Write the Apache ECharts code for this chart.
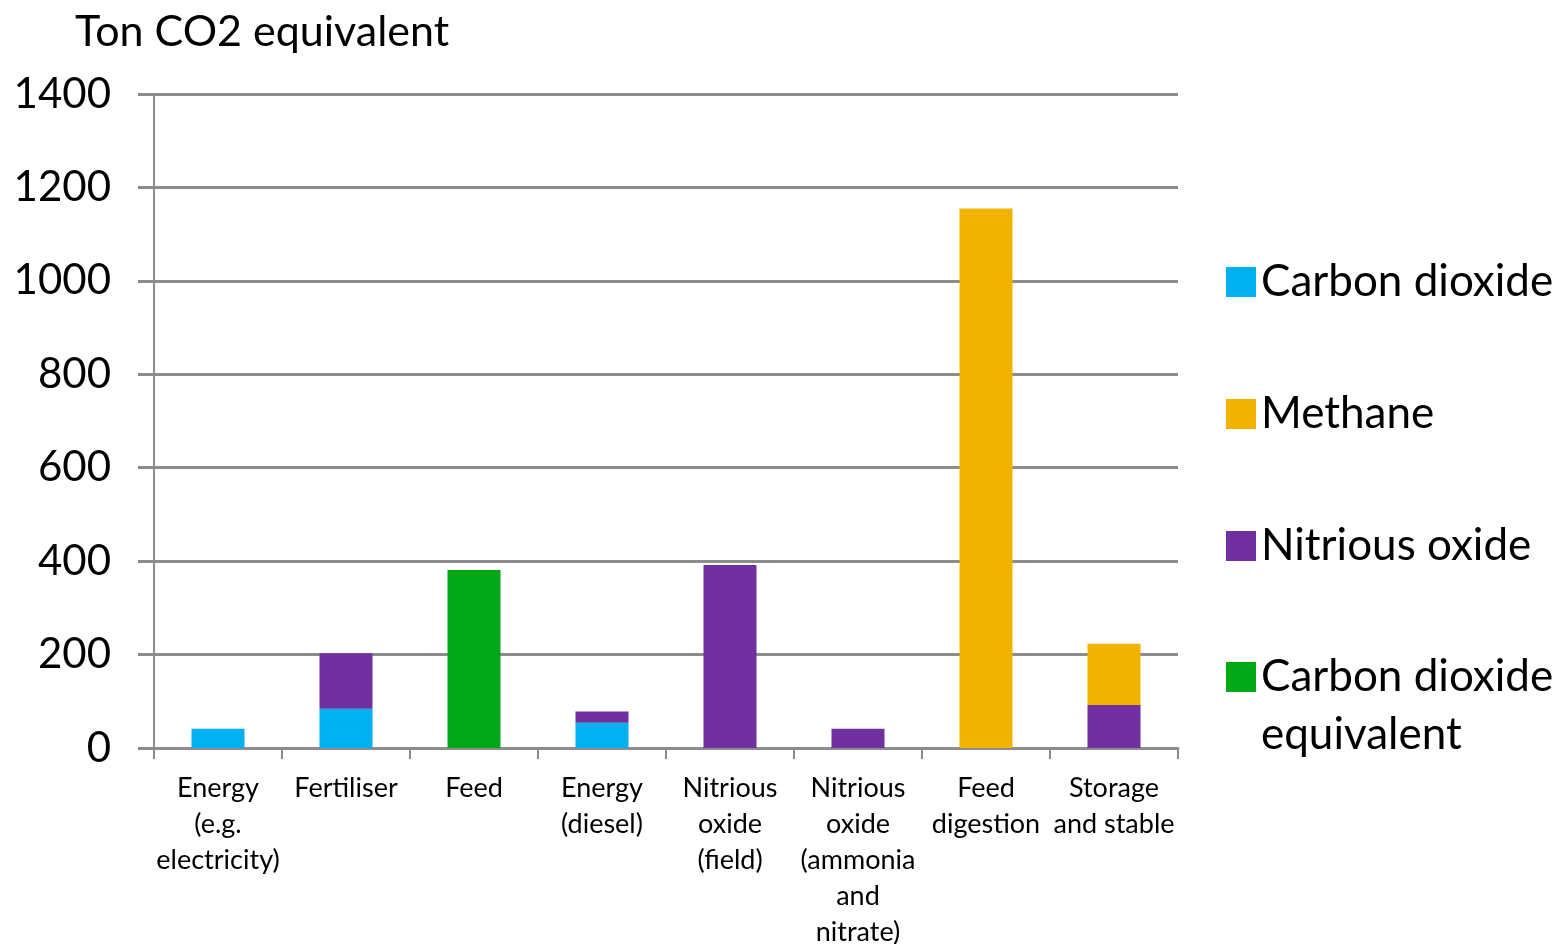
<!DOCTYPE html>
<html>
<head>
<meta charset="utf-8">
<script src="https://cdn.jsdelivr.net/npm/echarts@6/dist/echarts.min.js"></script>
<style>
html,body{margin:0;padding:0;background:#fff;overflow:hidden;}
#chart{width:1563px;height:944px;}
</style>
</head>
<body>
<div id="chart"></div>
<script>
const categories = [
  'Energy\n(e.g.\nelectricity)',
  'Fertiliser',
  'Feed',
  'Energy\n(diesel)',
  'Nitrious\noxide\n(field)',
  'Nitrious\noxide\n(ammonia\nand\nnitrate)',
  'Feed\ndigestion',
  'Storage\nand stable'
];
const carbonDioxide = [41, 84, null, 54, null, null, null, null];
const nitrousOxide  = [null, 119, null, 24, 392, 41, null, 92];
const methane       = [null, null, null, null, null, null, 1155, 131];
const co2Equivalent = [null, null, 381, null, null, null, null, null];
const yTicks = [0, 200, 400, 600, 800, 1000, 1200, 1400];

const FONT = 'Lato';
const GRID = '#8c8c8c';

const chart = echarts.init(document.getElementById('chart'));
chart.setOption({
  animation: false,
  backgroundColor: '#fff',
  textStyle: {fontFamily: FONT},
  title: {
    text: 'Ton CO2 equivalent',
    left: 70, top: 6,
    textStyle: {fontFamily: FONT, fontSize: 43, fontWeight: 'normal', color: '#000'}
  },
  legend: [{
    orient: 'vertical',
    left: 1221, top: 255,
    itemWidth: 30, itemHeight: 30,
    itemGap: 88,
    icon: 'rect',
    data: ['Carbon dioxide', 'Methane', 'Nitrious oxide'],
    textStyle: {fontFamily: FONT, fontSize: 44, color: '#000'}
  }, {
    orient: 'vertical',
    left: 1221, top: 592,
    itemWidth: 30, itemHeight: 30,
    icon: 'rect',
    data: ['Carbon dioxide equivalent'],
    formatter: function () { return '{s| }\n{t|Carbon dioxide}\n{t|equivalent}'; },
    textStyle: {
      fontFamily: FONT, fontSize: 44, color: '#000',
      rich: {
        s: {fontFamily: FONT, fontSize: 44, lineHeight: 58},
        t: {fontFamily: FONT, fontSize: 44, lineHeight: 58, color: '#000'}
      }
    }
  }],
  grid: {left: 154, right: 385, top: 94, height: 654, containLabel: false, outerBoundsMode: 'none'},
  xAxis: {
    type: 'category',
    data: categories,
    axisLine: {show: true, lineStyle: {color: GRID, width: 3}},
    axisTick: {show: true, alignWithLabel: false, length: 11, lineStyle: {color: GRID, width: 2}},
    axisLabel: {
      interval: 0, margin: 22,
      fontFamily: FONT, fontSize: 27, lineHeight: 36, color: '#000'
    }
  },
  yAxis: {
    type: 'value',
    min: 0, max: 1400, interval: 200,
    axisLine: {show: true, lineStyle: {color: GRID, width: 2}},
    axisTick: {show: true, length: 16, lineStyle: {color: GRID, width: 3}},
    splitLine: {show: true, lineStyle: {color: GRID, width: 3}},
    axisLabel: {
      margin: 43, fontFamily: FONT, fontSize: 42, color: '#000',
      formatter: function (v) { return yTicks.indexOf(v) >= 0 ? String(v) : ''; }
    }
  },
  series: [
    {name: 'Carbon dioxide', type: 'bar', stack: 'total', data: carbonDioxide, barWidth: 53, itemStyle: {color: '#00B0F0'}},
    {name: 'Nitrious oxide', type: 'bar', stack: 'total', data: nitrousOxide, barWidth: 53, itemStyle: {color: '#7030A0'}},
    {name: 'Methane', type: 'bar', stack: 'total', data: methane, barWidth: 53, itemStyle: {color: '#F0B400'}},
    {name: 'Carbon dioxide equivalent', type: 'bar', stack: 'total', data: co2Equivalent, barWidth: 53, itemStyle: {color: '#00A818'}}
  ]
});
</script>
</body>
</html>
